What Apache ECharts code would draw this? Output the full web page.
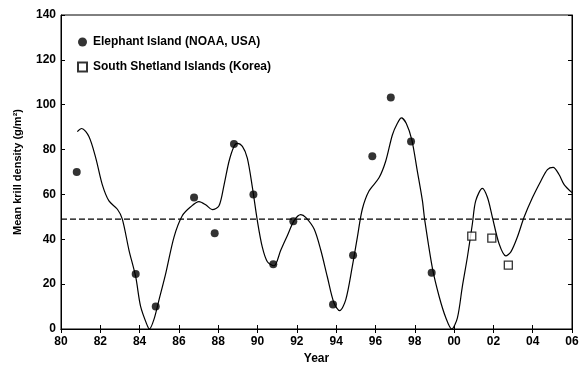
<!DOCTYPE html>
<html><head><meta charset="utf-8">
<script src="https://cdn.jsdelivr.net/npm/echarts@6/dist/echarts.min.js"></script>
<style>html,body{margin:0;padding:0;background:#fff}#c{width:582px;height:370px}</style>
</head><body><div id="c"></div>
<script>
// Elephant Island (NOAA, USA) survey points: [year (80 = 1980, 100 = 2000), density]
const elephantYears = [80.8, 83.8, 84.82, 86.77, 87.82, 88.8, 89.79, 90.8, 91.82, 93.84, 94.86, 95.84, 96.78, 97.81, 98.86];
const elephantValues = [70, 24.5, 10, 58.6, 42.7, 82.5, 60, 28.9, 48, 10.9, 32.9, 77, 103.2, 83.6, 25.1];
// South Shetland Islands (Korea)
const koreaYears = [100.9, 101.92, 102.76];
const koreaValues = [41.4, 40.5, 28.5];
// Smoothed curve
const curveYears = [80.83,81.05,81.42,81.77,82.1,82.44,82.87,83.12,83.46,83.8,84.05,84.4,84.5,84.73,84.99,85.33,85.75,86.17,86.6,87.02,87.36,87.7,88.04,88.3,88.55,88.8,88.97,89.23,89.48,89.74,89.99,90.24,90.5,90.84,91.18,91.52,91.86,92.2,92.45,92.88,93.22,93.55,93.89,94.18,94.49,94.82,95.08,95.33,95.67,96.18,96.52,96.86,97.11,97.32,97.57,97.85,98.13,98.39,98.5,98.9,99.24,99.58,99.88,100.17,100.42,100.68,100.93,101.1,101.44,101.7,101.95,102.29,102.63,102.89,103.22,103.56,103.99,104.41,104.75,105.04,105.34,105.6,106];
const curveValues = [88,89.4,85.8,76.2,64.4,57.1,53.4,49,35.1,23.3,10.1,1.3,0,4.3,13.1,24.8,41,50.5,54.5,56.8,55.4,53.2,54.9,64.4,74.8,81.4,82.8,81.4,76.2,63,48.3,36.6,30,28.2,35.1,41.7,48.3,51,49.8,44.6,35.1,23.3,11.6,8.2,13.1,27.8,41,53.4,61.5,67.4,74.8,86.5,91.6,94.1,91.6,84.3,70.4,57.1,49,27,14.5,5,0,5,18.9,32.2,46.8,57.1,62.7,58.6,49.8,38,32.6,34.4,41,49.8,58.6,65.9,71.1,72.1,68.9,64.4,60.8];
// Long-term mean (dashed line)
const meanYears = [80, 106];
const meanValue = 49;
const xTicks = {min: 80, max: 106, interval: 2};
const yTicks = {min: 0, max: 140, interval: 20};

const zip = (a, b) => a.map((v, i) => [v, b[i]]);
const font = 'Liberation Sans, Arial, sans-serif';
const lab = {color: '#000', fontFamily: font, fontWeight: 'bold', fontSize: 12};
const line = {show: true, lineStyle: {color: '#000', width: 1}};
const tick = {show: true, inside: true, length: 4, lineStyle: {color: '#000', width: 1}};

const chart = echarts.init(document.getElementById('c'));
chart.setOption({
  animation: false,
  backgroundColor: '#fff',
  grid: {left: 61, right: 10, top: 15, bottom: 37, show: true, borderColor: '#000', borderWidth: 1, backgroundColor: 'transparent'},
  legend: {
    orient: 'vertical', left: 72, top: 31, itemGap: 13, itemWidth: 9, itemHeight: 9,
    data: [{name: 'Elephant Island (NOAA, USA)', icon: 'circle'}, {name: 'South Shetland Islands (Korea)', icon: 'rect'}],
    textStyle: {color: '#000', fontFamily: font, fontWeight: 'bold', fontSize: 12, padding: [0, 0, 0, 1]}
  },
  xAxis: [{
    type: 'value', min: xTicks.min, max: xTicks.max, interval: xTicks.interval,
    name: 'Year', nameLocation: 'middle', nameGap: 24, nameTextStyle: lab,
    axisLine: line, axisTick: tick, splitLine: {show: false},
    axisLabel: Object.assign({margin: 7, formatter: v => String(v % 100).padStart(2, '0')}, lab)
  }, {
    type: 'value', position: 'top', min: xTicks.min, max: xTicks.max, interval: xTicks.interval,
    axisLine: line, axisTick: tick, axisLabel: {show: false}, splitLine: {show: false}
  }],
  yAxis: [{
    type: 'value', min: yTicks.min, max: yTicks.max, interval: yTicks.interval,
    name: 'Mean krill density (g/m²)', nameLocation: 'middle', nameGap: 38,
    nameTextStyle: {color: '#000', fontFamily: font, fontWeight: 'bold', fontSize: 11},
    axisLine: line, axisTick: tick, splitLine: {show: false},
    axisLabel: Object.assign({margin: 5}, lab)
  }, {
    type: 'value', position: 'right', min: yTicks.min, max: yTicks.max, interval: yTicks.interval,
    axisLine: line, axisTick: tick, axisLabel: {show: false}, splitLine: {show: false}
  }],
  series: [
    {
      name: 'curve', type: 'line', data: zip(curveYears, curveValues), smooth: 0.3,
      showSymbol: false, symbol: 'none', lineStyle: {color: '#000', width: 1.2}, z: 2
    },
    {
      name: 'mean', type: 'line', data: meanYears.map(y => [y, meanValue]), showSymbol: false, symbol: 'none',
      xAxisIndex: 1, yAxisIndex: 1,
      lineStyle: {color: '#000', width: 1.3, type: [6, 3]}, z: 1
    },
    {
      name: 'Elephant Island (NOAA, USA)', type: 'scatter', data: zip(elephantYears, elephantValues),
      symbol: 'circle', symbolSize: 8, itemStyle: {color: '#000'}, z: 3
    },
    {
      name: 'South Shetland Islands (Korea)', type: 'scatter', data: zip(koreaYears, koreaValues),
      symbol: 'rect', symbolSize: 8, itemStyle: {color: '#fff', borderColor: '#000', borderWidth: 1.3}, z: 3
    }
  ]
});
</script></body></html>
